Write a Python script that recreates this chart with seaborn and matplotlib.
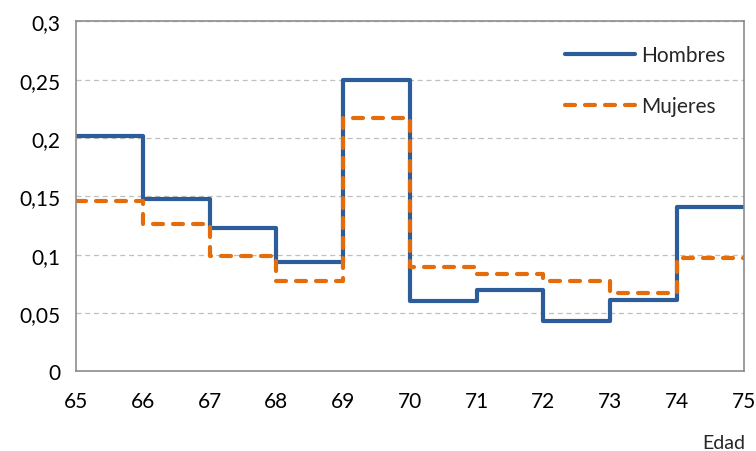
import seaborn as sns
import matplotlib.pyplot as plt
from matplotlib.ticker import FuncFormatter

edades = [65, 66, 67, 68, 69, 70, 71, 72, 73, 74]
hombres = [0.202, 0.148, 0.123, 0.094, 0.250, 0.060, 0.070, 0.043, 0.061, 0.141]
mujeres = [0.146, 0.126, 0.099, 0.077, 0.217, 0.089, 0.083, 0.077, 0.067, 0.097]
yticks = [0, 0.05, 0.1, 0.15, 0.2, 0.25, 0.3]

sns.set_style('white')
plt.rcParams['font.family'] = ['Lato', 'DejaVu Sans']

fig, ax = plt.subplots(figsize=(7.56, 4.52), dpi=100)
fig.subplots_adjust(left=0.1005, right=0.9837, top=0.9507, bottom=0.1763)

# extend last step to the right edge
x = edades + [edades[-1] + 1]
sns.lineplot(x=x, y=hombres + [hombres[-1]], ax=ax, drawstyle='steps-post',
             color='#2C5C99', linewidth=3, label='Hombres')
sns.lineplot(x=x, y=mujeres + [mujeres[-1]], ax=ax, drawstyle='steps-post',
             color='#E46C0A', linewidth=3, linestyle=(0, (2.4, 2.4)),
             dash_capstyle='round', label='Mujeres')

ax.set_xlim(65, 75)
ax.set_ylim(0, 0.3)
ax.set_xticks(range(65, 76))
ax.set_yticks(yticks)
ax.yaxis.set_major_formatter(FuncFormatter(lambda v, p: f'{v:g}'.replace('.', ',')))
ax.grid(axis='y', color='#BFBFBF', linestyle=(0, (4, 3)), linewidth=0.9)
ax.set_axisbelow(True)

for s in ax.spines.values():
    s.set_color('#8C8C8C')
    s.set_linewidth(1.2)
ax.tick_params(axis='both', direction='out', length=6, width=1.2, color='#8C8C8C',
               labelsize=15, colors='black')
ax.tick_params(axis='x', pad=8)
ax.tick_params(axis='y', pad=5)

ax.set_xlabel('')
ax.set_ylabel('')
fig.text(0.957, 0.0, 'Edad', fontsize=14, ha='center', va='bottom')

leg = ax.legend(loc='upper right', frameon=False, fontsize=15, handlelength=3.4,
                handletextpad=0.25, labelspacing=1.5, bbox_to_anchor=(1.0, 0.986))

plt.savefig('out.png', dpi=100)
